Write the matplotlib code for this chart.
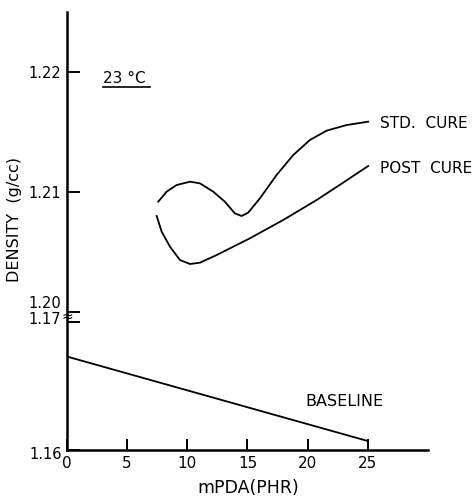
import numpy as np
import matplotlib
matplotlib.use("Agg")
import matplotlib.pyplot as plt
from matplotlib.transforms import ScaledTranslation

# ---- data ----
std_x = [7.58, 8.28, 9.11, 10.22, 11.05, 12.15, 13.12, 13.95, 14.51, 15.06,
         16.03, 17.42, 18.80, 20.18, 21.57, 23.23, 25.03]
std_y = [1.20919, 1.21003, 1.21058, 1.21086, 1.21072, 1.21003, 1.20919, 1.20822,
         1.20800, 1.20828, 1.20947, 1.21142, 1.21308, 1.21433, 1.21511, 1.21558, 1.21586]

post_x = [7.45, 7.87, 8.56, 9.39, 10.22, 11.05, 12.44, 15.2, 17.97, 20.74, 22.95, 25.03]
post_y = [1.20800, 1.20669, 1.20544, 1.20433, 1.20400, 1.20411, 1.20475, 1.20614,
          1.20767, 1.20933, 1.21078, 1.21217]

base_x = [0, 25]
base_y = [1.1673, 1.1607]

xticks = [0, 5, 10, 15, 20, 25]
yticks = [1.16, 1.17, 1.20, 1.21, 1.22]
ytick_labels = ["1.16", "1.17", "1.20", "1.21", "1.22"]

# ---- broken y scale (piecewise linear) ----
_vals = np.array([1.00, 1.16, 1.17, 1.20, 1.30])
_pix = np.array([-0.16 * 12800, 0.0, 128.0, 138.0, 138.0 + 0.10 * 12000])

def fwd(v):
    return np.interp(v, _vals, _pix)

def inv(p):
    return np.interp(p, _pix, _vals)

plt.rcParams['font.family'] = ['DejaVu Sans']

fig = plt.figure(figsize=(4.76, 4.97), dpi=100)
ax = fig.add_axes([67/476, 1 - 450/497, (428-67)/476, (450-12)/497])
ax.set_yscale('function', functions=(fwd, inv))

lw = 1.3
ax.plot(std_x, std_y, color='black', lw=lw)
ax.plot(post_x, post_y, color='black', lw=lw)
ax.plot(base_x, base_y, color='black', lw=lw)

ax.set_xlim(0, 30.0)
ax.set_ylim(1.16, 1.225)

for s in ['top', 'right']:
    ax.spines[s].set_visible(False)
for s in ['left', 'bottom']:
    ax.spines[s].set_linewidth(1.8)

ax.set_xticks(xticks)
ax.set_xticklabels([str(t) for t in xticks], fontsize=11)
ax.set_yticks(yticks)
ax.set_yticklabels(ytick_labels, fontsize=10.5)
ax.yaxis.set_minor_locator(matplotlib.ticker.NullLocator())
ax.tick_params(axis='y', direction='in', length=9, width=1.4, pad=4)
ax.tick_params(axis='x', direction='in', length=8, width=1.4, pad=4)

# shift crowded labels near the break
for lbl in ax.get_yticklabels():
    t = lbl.get_text()
    if t == "1.20":
        lbl.set_transform(lbl.get_transform() + ScaledTranslation(0, 10/100, fig.dpi_scale_trans))
    elif t == "1.17":
        lbl.set_transform(lbl.get_transform() + ScaledTranslation(0, 4/100, fig.dpi_scale_trans))
    elif t == "1.16":
        lbl.set_transform(lbl.get_transform() + ScaledTranslation(0, -3/100, fig.dpi_scale_trans))

# break mark
ax.text(0, 1.185, "≈", ha='center', va='center', fontsize=10, clip_on=False,
        transform=ax.transData)

# annotations
ax.text(26.0, 1.2157, "STD.  CURE", fontsize=11, va='center', ha='left')
ax.text(26.0, 1.2120, "POST  CURE", fontsize=11, va='center', ha='left')
ax.text(19.77, 1.16377, "BASELINE", fontsize=11.5, va='center', ha='left')
ax.text(2.99, 1.2195, "23 °C", fontsize=11, va='center', ha='left')
ax.plot([2.99, 6.9], [1.21875, 1.21875], color='black', lw=1.2, clip_on=False)

fig.text(15/476, 1 - 220/497, "DENSITY  (g/cc)", rotation=90, ha='center', va='center', fontsize=11.5)
fig.text(248/476, 1 - 488/497, "mPDA(PHR)", ha='center', va='center', fontsize=12.5)

fig.savefig("out.png", dpi=100)
